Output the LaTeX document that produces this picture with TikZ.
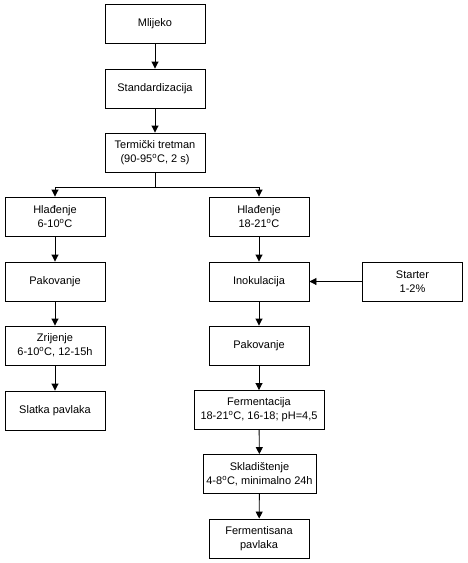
\documentclass[tikz,border=0pt]{standalone}
\usepackage{fontspec}
\setmainfont{Liberation Sans}
\usetikzlibrary{arrows.meta}
\newcommand{\stC}{\textsuperscript{o}C}
\tikzset{
  korak/.style={draw, line width=0.9pt, minimum width=100pt, minimum height=39pt, align=center, inner sep=2pt, font=\fontsize{11}{14}\selectfont},
  tok/.style={line width=0.9pt, -{Triangle[length=7pt,width=7pt]}}
}
\begin{document}
\begin{tikzpicture}[x=1pt,y=-1pt]
  \useasboundingbox (0,0) rectangle (467,563);
  %main line
  \node[korak] (mlijeko) at (155,23.5) {Mlijeko};
  \node[korak] (standard) at (155,88.5) {Standardizacija};
  \node[korak] (termicki) at (155,152.5) {Termički tretman\\(90-95\stC, 2 s)};
  \coordinate (grana) at (155,187);
  %left
  \node[korak] (hladL) at (55,216.5) {Hlađenje\\6-10\stC};
  \node[korak] (pakL) at (55,281.5) {Pakovanje};
  \node[korak] (zrijenje) at (55,345.5) {Zrijenje\\6-10\stC, 12-15h};
  \node[korak] (slatka) at (55,410.5) {Slatka pavlaka};
  %right
  \node[korak] (hladD) at (259,216.5) {Hlađenje\\18-21\stC};
  \node[korak] (inok) at (259,281.5) {Inokulacija};
  \node[korak] (starter) at (412.5,281.5) {Starter\\1-2\%};
  \node[korak] (pakD) at (259,345.5) {Pakovanje};
  \node[korak, minimum width=130pt] (ferm) at (259,410) {Fermentacija\\18-21\stC, 16-18; pH=4,5};
  \node[korak, minimum width=113pt] (sklad) at (259.5,474) {Skladištenje\\4-8\stC, minimalno 24h};
  \node[korak] (fermpav) at (259,538.5) {Fermentisana\\pavlaka};
  %arrows
  \draw[tok] (mlijeko) -- (standard);
  \draw[tok] (standard) -- (termicki);
  \draw[line width=0.9pt] (termicki) -- (grana);
  \draw[tok] (grana) -| (hladL);
  \draw[tok] (grana) -| (hladD);
  \draw[tok] (hladL) -- (pakL);
  \draw[tok] (pakL) -- (zrijenje);
  \draw[tok] (zrijenje) -- (slatka);
  \draw[tok] (hladD) -- (inok);
  \draw[tok] (starter) -- (inok);
  \draw[tok] (inok) -- (pakD);
  \draw[tok] (pakD) -- (ferm);
  \draw[tok] (ferm) -- (sklad);
  \draw[tok] (sklad) -- (fermpav);
\end{tikzpicture}
\end{document}
